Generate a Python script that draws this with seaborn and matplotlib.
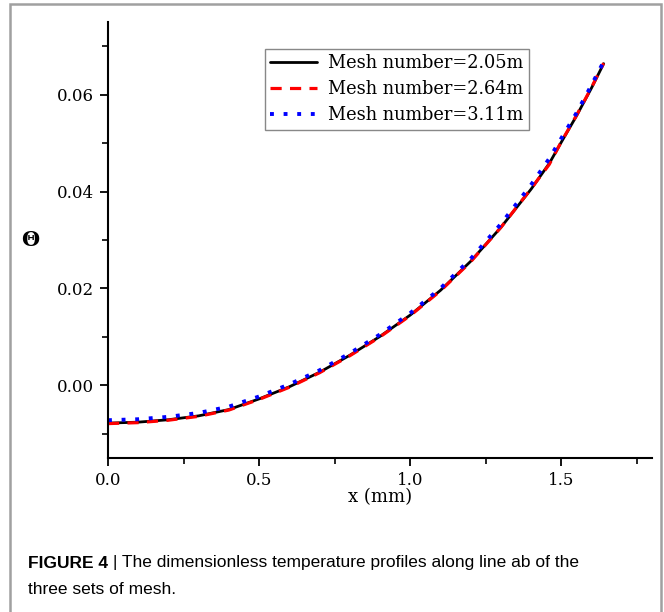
import matplotlib
matplotlib.use('Agg')
import matplotlib.pyplot as plt
import seaborn as sns
import pandas as pd
from matplotlib.patches import Rectangle
from matplotlib.ticker import MultipleLocator, FormatStrFormatter

# ---- data ----
x_mm = [0.0, 0.1, 0.2, 0.3, 0.4, 0.5, 0.6, 0.7, 0.8, 0.9, 1.0,
        1.1, 1.2, 1.3, 1.4, 1.46, 1.5, 1.55, 1.6, 1.64]
theta_205 = [-0.0078, -0.0076, -0.0071, -0.0063, -0.0050, -0.0028, -0.0003,
             0.0027, 0.0062, 0.0101, 0.0145, 0.0196, 0.0256, 0.0326, 0.0405,
             0.0458, 0.0502, 0.0556, 0.0614, 0.0664]
theta_264 = [-0.0079, -0.0077, -0.0072, -0.0064, -0.0051, -0.0029, -0.0004,
             0.0026, 0.0061, 0.0100, 0.0144, 0.0195, 0.0255, 0.0326, 0.0406,
             0.0456, 0.0503, 0.0557, 0.0615, 0.0665]
theta_311 = [-0.0072, -0.0070, -0.0065, -0.0057, -0.0044, -0.0023, 0.0002,
             0.0031, 0.0066, 0.0105, 0.0149, 0.0200, 0.0261, 0.0333, 0.0414,
             0.0468, 0.0510, 0.0562, 0.0620, 0.0668]
series_labels = ["Mesh number=2.05m", "Mesh number=2.64m", "Mesh number=3.11m"]
x_ticks = [0.0, 0.5, 1.0, 1.5]
y_ticks = [0.00, 0.02, 0.04, 0.06]
caption_bold = "FIGURE 4 "
caption_rest = "| The dimensionless temperature profiles along line ab of the"
caption_line2 = "three sets of mesh."

sns.set_theme(style="ticks")
plt.rcParams['font.family'] = ['DejaVu Serif']
plt.rcParams['text.color'] = 'black'
plt.rcParams['axes.labelcolor'] = 'black'

fig = plt.figure(figsize=(6.64, 6.12), dpi=100)
fig.patch.set_facecolor('white')
W, H = 664, 612
ax = fig.add_axes([108 / W, 1 - 458 / H, (652 - 108) / W, (458 - 22) / H])

df = pd.DataFrame({
    'x': x_mm * 3,
    'theta': theta_205 + theta_264 + theta_311,
    'mesh': [series_labels[0]] * len(x_mm) + [series_labels[1]] * len(x_mm)
            + [series_labels[2]] * len(x_mm),
})

styles = {
    series_labels[0]: dict(color='black', lw=2.0, linestyle='-'),
    series_labels[1]: dict(color='#ff0000', lw=2.3, linestyle=(0, (3.5, 2.6))),
    series_labels[2]: dict(color='#0000ff', lw=2.8, linestyle=(0, (1, 2.5))),
}
for lab in series_labels:
    sub = df[df['mesh'] == lab]
    sns.lineplot(data=sub, x='x', y='theta', ax=ax, label=lab,
                 dash_capstyle='butt', **styles[lab])

ax.set_xlim(0, 1.8)
ax.set_ylim(-0.015, 0.075)
ax.set_xticks(x_ticks)
ax.set_yticks(y_ticks)
ax.xaxis.set_major_formatter(FormatStrFormatter('%.1f'))
ax.yaxis.set_major_formatter(FormatStrFormatter('%.2f'))
ax.xaxis.set_minor_locator(MultipleLocator(0.25))
ax.yaxis.set_minor_locator(MultipleLocator(0.01))
ax.tick_params(which='major', direction='out', length=6, width=1.3,
               labelsize=12, colors='black', pad=4)
ax.tick_params(which='minor', direction='out', length=4, width=1.2, colors='black')
for s in ['top', 'right']:
    ax.spines[s].set_visible(False)
for s in ['left', 'bottom']:
    ax.spines[s].set_linewidth(1.5)
    ax.spines[s].set_color('black')

ax.set_xlabel('x (mm)', fontsize=13, color='black')
ax.xaxis.set_label_coords(0.5, -(497 - 458) / 436)
ax.xaxis.label.set_va('center')
ax.set_ylabel('Θ', rotation=0, fontsize=15, fontweight='bold', color='black')
ax.yaxis.set_label_coords(-(108 - 30) / 544, 0.5)
ax.yaxis.label.set_va('center')
ax.yaxis.label.set_ha('center')

leg = ax.legend(loc='upper left', bbox_to_anchor=((265 - 108) / 544, (458 - 49) / 436),
                borderaxespad=0, frameon=True, fancybox=False, fontsize=12.8,
                handlelength=2.6, handletextpad=0.65, labelspacing=0.45,
                borderpad=0.3, labelcolor='black')
leg.get_frame().set_edgecolor('#888888')
leg.get_frame().set_linewidth(1.0)
leg.get_frame().set_alpha(1)

# figure border
fig.patches.append(Rectangle((10 / W, -0.05), (661 - 10) / W, 1.05 - 4 / H,
                             transform=fig.transFigure, fill=False,
                             edgecolor='#a0a0a0', lw=1.8, zorder=0))

# caption
cap_fs = 12.5
t1 = fig.text(28 / W, 1 - 563 / H, caption_bold, fontsize=cap_fs, fontweight='bold',
              family=['Liberation Sans'], va='center', ha='left', color='black')
fig.canvas.draw()
bb = t1.get_window_extent(renderer=fig.canvas.get_renderer())
fig.text(bb.x1 / W, 1 - 563 / H, caption_rest, fontsize=cap_fs,
         family=['Liberation Sans'], va='center', ha='left', color='black')
fig.text(28 / W, 1 - 589 / H, caption_line2, fontsize=cap_fs,
         family=['Liberation Sans'], va='center', ha='left', color='black')

fig.savefig('out.png', dpi=100, facecolor='white')
